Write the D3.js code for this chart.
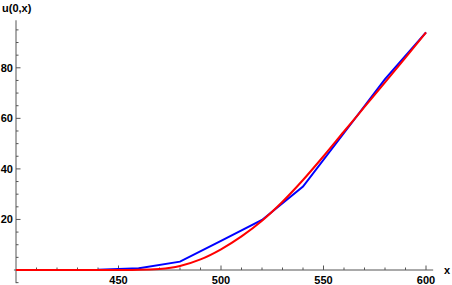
<!DOCTYPE html>
<html lang="en">
<head>
    <meta charset="UTF-8">
    <title>u(0,x)</title>
    <style>
        body { margin: 0; background: #fff; }
        svg { display: block; font-family: 'Liberation Sans', Arial, sans-serif; }
        .tick-label { font-size: 11px; font-weight: bold; fill: #000; }
    </style>
</head>
<body>
    <svg id="chart" width="452" height="285"></svg>

    <script src="https://d3js.org/d3.v7.min.js"></script>
    <script>
        // blue: piecewise linear (numerical)
        const blueX = [400, 420, 440, 460, 480, 500, 520, 540, 560, 580, 600];
        const blueY = [0, 0, 0.1, 0.7, 3.3, 11.5, 19.8, 33, 54.2, 75.5, 94];

        // red: smooth curve (exact)
        const redX = [400, 420, 440, 450, 460, 470, 480, 490, 500, 510, 520, 530, 540, 550, 560, 570, 580, 590, 600];
        const redY = [0, 0, 0, 0, 0.05, 0.4, 1.6, 4.2, 8.2, 13.3, 19.5, 27, 35.6, 45, 54.8, 64.5, 74.2, 84, 94];

        const xMajor = [450, 500, 550, 600];
        const yMajor = [20, 40, 60, 80];

        const svg = d3.select("#chart");

        const x = d3.scaleLinear().domain([400, 600]).range([16, 426]);
        const y = d3.scaleLinear().domain([0, 80]).range([270, 67.8]);

        const axisColor = "#555";

        // y axis line
        svg.append("line")
            .attr("x1", x(400)).attr("x2", x(400))
            .attr("y1", y(-5.2)).attr("y2", y(98.8))
            .attr("stroke", axisColor).attr("stroke-width", 1);

        // x axis line
        svg.append("line")
            .attr("x1", x(399)).attr("x2", x(603.5))
            .attr("y1", y(0)).attr("y2", y(0))
            .attr("stroke", axisColor).attr("stroke-width", 1);

        // x ticks
        const xMinor = d3.range(410, 601, 10).filter(v => !xMajor.includes(v));
        svg.append("g").selectAll("line")
            .data(xMinor).enter().append("line")
            .attr("x1", d => x(d)).attr("x2", d => x(d))
            .attr("y1", y(0)).attr("y2", y(0) - 2.5)
            .attr("stroke", axisColor);
        svg.append("g").selectAll("line")
            .data(xMajor).enter().append("line")
            .attr("x1", d => x(d)).attr("x2", d => x(d))
            .attr("y1", y(0)).attr("y2", y(0) - 4.5)
            .attr("stroke", axisColor);
        svg.append("g").selectAll("text")
            .data(xMajor).enter().append("text")
            .attr("class", "tick-label")
            .attr("x", d => x(d)).attr("y", y(0) + 13.5)
            .attr("text-anchor", "middle")
            .text(d => d);

        // y ticks
        const yMinor = d3.range(-5, 96, 5).filter(v => v !== 0 && !yMajor.includes(v));
        svg.append("g").selectAll("line")
            .data(yMinor).enter().append("line")
            .attr("x1", x(400)).attr("x2", x(400) + 2.5)
            .attr("y1", d => y(d)).attr("y2", d => y(d))
            .attr("stroke", axisColor);
        svg.append("g").selectAll("line")
            .data(yMajor).enter().append("line")
            .attr("x1", x(400)).attr("x2", x(400) + 4.5)
            .attr("y1", d => y(d)).attr("y2", d => y(d))
            .attr("stroke", axisColor);
        svg.append("g").selectAll("text")
            .data(yMajor).enter().append("text")
            .attr("class", "tick-label")
            .attr("x", x(400) - 3).attr("y", d => y(d) + 4)
            .attr("text-anchor", "end")
            .text(d => d);

        // axis labels
        svg.append("text").attr("class", "tick-label")
            .attr("x", 2).attr("y", 12).text("u(0,x)");
        svg.append("text").attr("class", "tick-label")
            .attr("x", 444).attr("y", 274).text("x");

        // lines
        const blue = blueX.map((v, i) => [v, blueY[i]]);
        const red = redX.map((v, i) => [v, redY[i]]);

        svg.append("path")
            .datum(blue)
            .attr("fill", "none")
            .attr("stroke", "#0000ff")
            .attr("stroke-width", 2)
            .attr("d", d3.line().x(d => x(d[0])).y(d => y(d[1])));

        svg.append("path")
            .datum(red)
            .attr("fill", "none")
            .attr("stroke", "#ff0000")
            .attr("stroke-width", 2)
            .attr("d", d3.line().curve(d3.curveMonotoneX).x(d => x(d[0])).y(d => y(d[1])));
    </script>
</body>
</html>
